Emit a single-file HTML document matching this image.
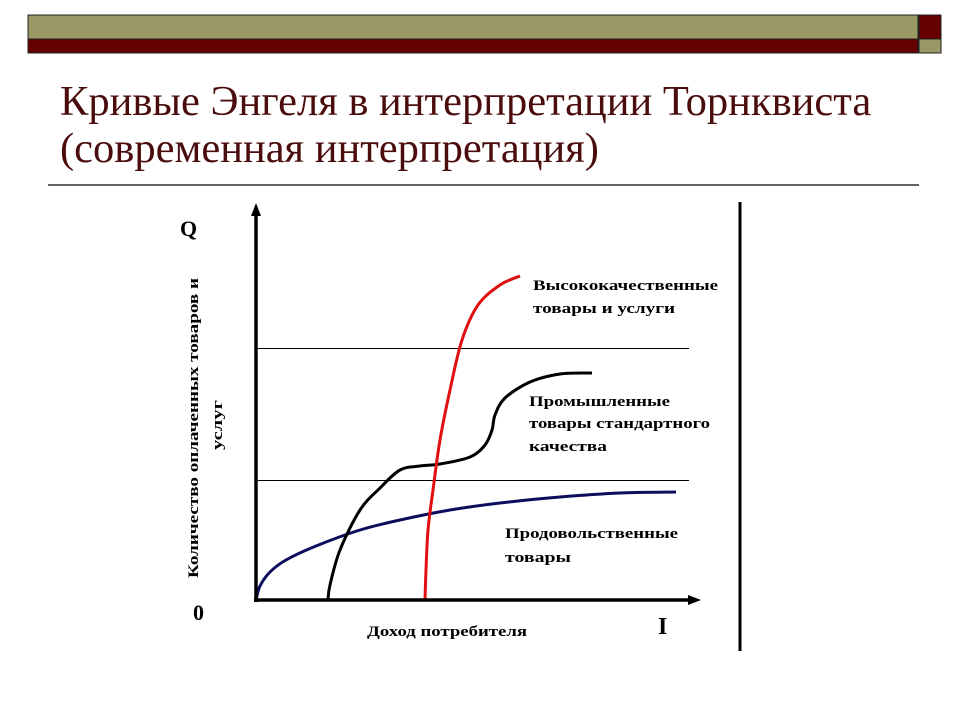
<!DOCTYPE html>
<html><head><meta charset="utf-8"><style>
body{margin:0;background:#fff;width:960px;height:720px;overflow:hidden}
svg{display:block}
</style></head><body>
<svg width="960" height="720" xmlns="http://www.w3.org/2000/svg">
<rect x="28" y="15" width="890" height="24" fill="#999966" stroke="#222" stroke-width="1"/>
<rect x="28" y="39" width="890" height="14" fill="#660000" stroke="#222" stroke-width="1"/>
<rect x="919" y="15" width="22" height="24" fill="#660000" stroke="#222" stroke-width="1"/>
<rect x="919" y="39" width="22" height="14" fill="#999966" stroke="#222" stroke-width="1"/>
<g font-family="Liberation Serif, serif" font-size="42.5" fill="#4a0c0c">
<text x="60" y="115">Кривые Энгеля в интерпретации Торнквиста</text>
<text x="60" y="162">(современная интерпретация)</text>
</g>
<line x1="48" y1="185" x2="919" y2="185" stroke="#333" stroke-width="1.5"/>
<line x1="740" y1="202" x2="740" y2="651" stroke="#000" stroke-width="3"/>
<g id="chart"></g>
<g font-family="Liberation Serif, serif" font-weight="bold" fill="#000">
<text x="180" y="236" font-size="22">Q</text>
<text x="193" y="620" font-size="22">0</text>
<text x="658" y="634" font-size="24">I</text>
<text x="367" y="636" font-size="15" textLength="160" lengthAdjust="spacingAndGlyphs">Доход потребителя</text>
<g transform="translate(198,578) rotate(-90)" font-size="15">
<text x="0" y="0" textLength="300" lengthAdjust="spacingAndGlyphs">Количество оплаченных товаров и</text>
<text x="128" y="24" textLength="50" lengthAdjust="spacingAndGlyphs">услуг</text>
</g>
<g font-size="15">
<text x="533" y="290" textLength="185" lengthAdjust="spacingAndGlyphs">Высококачественные</text>
<text x="533" y="313" textLength="142" lengthAdjust="spacingAndGlyphs">товары и услуги</text>
</g>
<g font-size="15">
<text x="529" y="406" textLength="141" lengthAdjust="spacingAndGlyphs">Промышленные</text>
<text x="529" y="428" textLength="181" lengthAdjust="spacingAndGlyphs">товары стандартного</text>
<text x="529" y="451" textLength="78" lengthAdjust="spacingAndGlyphs">качества</text>
</g>
<g font-size="15">
<text x="505" y="538" textLength="173" lengthAdjust="spacingAndGlyphs">Продовольственные</text>
<text x="505" y="562" textLength="66" lengthAdjust="spacingAndGlyphs">товары</text>
</g>
</g>
</svg>
<script>
// data in income/quantity units (x: 0..445, y: 0..395)
const foodX = [0, 4, 14, 30, 60, 104, 144, 194, 244, 304, 364, 420];
const foodY = [0, 14, 28, 40, 54, 70, 80, 90, 97, 103, 107, 108];
const indX = [72, 74, 84, 104, 124, 144, 164, 184, 214, 229, 236, 239, 249, 274, 304, 336];
const indY = [0, 15, 50, 90, 112, 130, 134, 136, 143, 155, 170, 185, 202, 218, 226, 227];
const hiX = [169, 170, 172, 177, 184, 194, 206, 222, 244, 264];
const hiY = [0, 30, 70, 110, 160, 210, 260, 295, 315, 324];
const gridY = [120, 252];
const x0 = 256, y0 = 600;
function sx(v){return x0 + v;}
function sy(v){return y0 - v;}
const NS = "http://www.w3.org/2000/svg";
const g = document.getElementById('chart');
function smooth(xs, ys){
  const p = xs.map((x,i)=>[sx(x), sy(ys[i])]);
  let d = "M" + p[0][0] + "," + p[0][1];
  for (let i=0;i<p.length-1;i++){
    const a=p[i-1]||p[i], b=p[i], c=p[i+1], e=p[i+2]||c;
    const c1=[b[0]+(c[0]-a[0])/6, b[1]+(c[1]-a[1])/6];
    const c2=[c[0]-(e[0]-b[0])/6, c[1]-(e[1]-b[1])/6];
    d += " C"+c1[0]+","+c1[1]+" "+c2[0]+","+c2[1]+" "+c[0]+","+c[1];
  }
  return d;
}
gridY.forEach(v=>{
  const l=document.createElementNS(NS,'line');
  
  
  l.setAttribute('x1',sx(2));l.setAttribute('x2',sx(433));
  l.setAttribute('y1',sy(v)+0.5);l.setAttribute('y2',sy(v)+0.5);
  l.setAttribute('stroke','#000');l.setAttribute('stroke-width','1');
  g.appendChild(l);
});
function curve(xs,ys,color,name){
  const p=document.createElementNS(NS,'path');
  
  
  p.setAttribute('d',smooth(xs,ys));
  p.setAttribute('fill','none');p.setAttribute('stroke',color);p.setAttribute('stroke-width','3');
  g.appendChild(p);
}
curve(foodX,foodY,'#0d0d5e','food-curve');
curve(indX,indY,'#000','industrial-curve');
curve(hiX,hiY,'#e01010','high-quality-curve');
const ya=document.createElementNS(NS,'path');


ya.setAttribute('d','M'+x0+','+(y0+2)+' V214');
ya.setAttribute('stroke','#000');ya.setAttribute('stroke-width','3.5');
g.appendChild(ya);
const yh=document.createElementNS(NS,'polygon');


yh.setAttribute('points',(x0-5)+',216 '+x0+',203 '+(x0+5)+',216');
g.appendChild(yh);
const xa=document.createElementNS(NS,'path');


xa.setAttribute('d','M'+(x0-2)+','+y0+' H690');
xa.setAttribute('stroke','#000');xa.setAttribute('stroke-width','3.5');
g.appendChild(xa);
const xh=document.createElementNS(NS,'polygon');


xh.setAttribute('points','688,'+(y0-5)+' 701,'+y0+' 688,'+(y0+5));
g.appendChild(xh);
</script>
</body></html>
